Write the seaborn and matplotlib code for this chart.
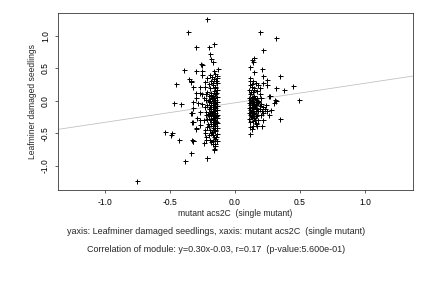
import matplotlib
matplotlib.use("Agg")
import matplotlib.pyplot as plt
import seaborn as sns
import pandas as pd

# ---- data ----
left_x = [-0.21, -0.36, -0.30, -0.39, -0.45, -0.35, -0.34, -0.25, -0.30, -0.47, -0.41, -0.54, -0.48, -0.49,
          -0.43, -0.33, -0.32, -0.34, -0.38, -0.21, -0.34, -0.32, -0.30, -0.27, -0.32, -0.30,
          -0.20, -0.16, -0.19, -0.18, -0.17, -0.26, -0.25, -0.16, -0.13, -0.25, -0.34, -0.23, -0.20, -0.14,
          -0.32, -0.27, -0.32, -0.30, -0.27, -0.25, -0.28, -0.25, -0.33, -0.27, -0.29, -0.33, -0.27, -0.30,
          -0.32, -0.23, -0.22, -0.24, -0.18, -0.16, -0.21,
          -0.15, -0.14, -0.16, -0.18, -0.14, -0.17, -0.15, -0.19, -0.14, -0.16, -0.21, -0.18, -0.15, -0.17,
          -0.20, -0.14, -0.16, -0.19, -0.22, -0.15, -0.17, -0.14, -0.20, -0.16, -0.18, -0.15, -0.21, -0.17,
          -0.14, -0.19, -0.16, -0.15, -0.18, -0.20, -0.14, -0.17, -0.16, -0.22, -0.15, -0.19, -0.17, -0.14,
          -0.16, -0.20, -0.18, -0.15, -0.17, -0.14, -0.21, -0.16, -0.19, -0.15, -0.17, -0.14, -0.18, -0.16,
          -0.20, -0.15, -0.17, -0.14, -0.19, -0.16, -0.15, -0.18, -0.14, -0.17, -0.16, -0.15, -0.19, -0.14,
          -0.17, -0.15, -0.16,
          -0.19, -0.21, -0.23, -0.22, -0.24, -0.23, -0.22, -0.24, -0.21, -0.23, -0.20, -0.22,
          -0.145, -0.155, -0.165, -0.175, -0.145, -0.185, -0.155, -0.175, -0.145, -0.165, -0.185, -0.155,
          -0.175, -0.145, -0.165, -0.185, -0.195, -0.205, -0.145, -0.165, -0.175, -0.155, -0.185, -0.205,
          -0.75]
left_y = [1.25, 1.06, 0.83, 0.48, 0.26, 0.34, 0.31, 0.55, 0.46, -0.03, -0.05, -0.48, -0.49, -0.52,
          -0.60, -0.60, -0.62, -0.80, -0.92, -0.88, -0.19, -0.32, -0.42, -0.29, -0.11, 0.04,
          0.82, 0.88, 0.72, 0.65, 0.60, 0.57, 0.46, 0.46, 0.49, 0.40, 0.29, 0.29, 0.26, 0.35,
          0.22, 0.22, -0.02, 0.12, 0.12, 0.11, -0.03, -0.05, -0.19, -0.17, -0.26, -0.32, -0.37, -0.43,
          -0.61, -0.49, -0.55, -0.65, -0.63, -0.75, -0.88,
          0.42, 0.38, 0.33, 0.30, 0.27, 0.24, 0.21, 0.19, 0.17, 0.15, 0.14, 0.12, 0.10, 0.08,
          0.07, 0.06, 0.04, 0.03, 0.02, 0.01, 0.00, -0.01, -0.02, -0.03, -0.04, -0.05, -0.06, -0.07,
          -0.08, -0.09, -0.10, -0.11, -0.12, -0.13, -0.14, -0.15, -0.16, -0.17, -0.18, -0.19, -0.20, -0.21,
          -0.22, -0.23, -0.24, -0.25, -0.26, -0.27, -0.28, -0.29, -0.30, -0.31, -0.33, -0.34, -0.35, -0.36,
          -0.38, -0.39, -0.41, -0.42, -0.44, -0.45, -0.47, -0.49, -0.51, -0.53, -0.56, -0.58, -0.60, -0.62,
          -0.66, -0.70, -0.74,
          0.40, 0.35, 0.22, 0.10, 0.05, -0.10, -0.22, -0.30, -0.40, -0.45, -0.52, -0.60,
          0.12, -0.02, -0.12, -0.19, -0.24, -0.06, 0.19, 0.05, -0.32, -0.38, -0.28, -0.44,
          -0.48, -0.55, -0.61, -0.16, 0.00, -0.20, 0.31, 0.27, 0.36, -0.66, 0.09, -0.35,
          -1.23]

right_x = [0.19, 0.32, 0.22, 0.15, 0.13, 0.14, 0.12, 0.21, 0.15, 0.22, 0.35, 0.25, 0.12, 0.32, 0.38,
           0.45, 0.49, 0.31, 0.26, 0.35, 0.12, 0.13, 0.14, 0.17, 0.12,
           0.22, 0.25, 0.27, 0.30, 0.32, 0.28, 0.26, 0.22, 0.21, 0.16, 0.19, 0.22,
           0.12, 0.14, 0.16, 0.12, 0.18, 0.13, 0.15, 0.11, 0.17, 0.14, 0.12, 0.19, 0.15, 0.13, 0.17, 0.11,
           0.14, 0.16, 0.12, 0.18, 0.13, 0.15, 0.11, 0.17, 0.14, 0.12, 0.16, 0.19, 0.13, 0.15, 0.11, 0.17,
           0.14, 0.12, 0.16, 0.18, 0.13, 0.15, 0.11, 0.14, 0.17, 0.12, 0.16, 0.13, 0.15, 0.11, 0.18, 0.14,
           0.12, 0.16,
           0.125, 0.145, 0.135, 0.155, 0.165, 0.125, 0.145, 0.175, 0.205, 0.21, 0.20, 0.22, 0.23, 0.24,
           0.25, 0.20, 0.19, 0.135, 0.155, 0.125]
right_y = [1.06, 0.97, 0.78, 0.66, 0.62, 0.60, 0.52, 0.49, 0.45, 0.38, 0.38, 0.32, 0.31, 0.20, 0.16,
           0.23, 0.02, 0.02, 0.08, -0.28, -0.51, -0.43, -0.38, -0.39, -0.40,
           0.27, 0.25, 0.08, -0.03, 0.00, -0.14, -0.21, -0.19, -0.39, -0.35, -0.12, -0.29,
           0.35, 0.30, 0.28, 0.25, 0.24, 0.21, 0.19, 0.17, 0.15, 0.13, 0.11, 0.10, 0.08, 0.06, 0.05, 0.04,
           0.03, 0.02, 0.01, 0.00, -0.01, -0.02, -0.03, -0.04, -0.05, -0.06, -0.07, -0.08, -0.09, -0.10,
           -0.11, -0.12, -0.13, -0.14, -0.15, -0.16, -0.17, -0.18, -0.19, -0.20, -0.21, -0.22, -0.23, -0.25,
           -0.27, -0.28, -0.29, -0.31, -0.33, -0.34,
           0.00, -0.08, -0.16, 0.05, -0.11, -0.24, 0.16, -0.02, -0.05, -0.15, 0.05, -0.09, -0.13, -0.06,
           -0.16, -0.22, 0.20, 0.26, -0.30, 0.14]

slope = 0.30
intercept = -0.03

x_ticks = [-1.0, -0.5, 0.0, 0.5, 1.0]
y_ticks = [-1.0, -0.5, 0.0, 0.5, 1.0]
x_label = "mutant acs2C  (single mutant)"
y_label = "Leafminer damaged seedlings"
caption1 = "yaxis: Leafminer damaged seedlings, xaxis: mutant acs2C  (single mutant)"
caption2 = "Correlation of module: y=0.30x-0.03, r=0.17  (p-value:5.600e-01)"

# ---- plotting ----
sns.set_style("white")
plt.rcParams["font.family"] = ["Liberation Sans", "DejaVu Sans"]

df = pd.DataFrame({"x": left_x + right_x, "y": left_y + right_y})

fig = plt.figure(figsize=(6, 4), dpi=72)
ax = fig.add_axes([0.134, 0.340, 0.822, 0.615])

xlim = (-1.36, 1.37)
ylim = (-1.37, 1.35)
fs = 8.5

ax.plot(list(xlim), [slope * xlim[0] + intercept, slope * xlim[1] + intercept],
        color="#c0c0c0", linewidth=0.8, zorder=1)
sns.scatterplot(data=df, x="x", y="y", ax=ax, marker="+", color="black",
                s=25, linewidth=1.0, zorder=2, legend=False)

ax.set_xlim(*xlim)
ax.set_ylim(*ylim)
ax.set_xticks(x_ticks)
ax.set_yticks(y_ticks)
ax.set_xticklabels([f"{v:.1f}" for v in x_ticks], fontsize=fs)
ax.set_yticklabels([f"{v:.1f}" for v in y_ticks], fontsize=fs, rotation=90, va="center")
ax.tick_params(axis="both", direction="out", length=3, width=0.6, pad=5, colors="black", bottom=True, left=True)
ax.set_xlabel(x_label, fontsize=fs, labelpad=2)
ax.set_ylabel(y_label, fontsize=fs, labelpad=4)
for sp in ax.spines.values():
    sp.set_color("#303030")
    sp.set_linewidth(0.8)

fig.text(0.5, 1 - 232 / 288, caption1, ha="center", va="center", fontsize=9)
fig.text(0.5, 1 - 250 / 288, caption2, ha="center", va="center", fontsize=9)

fig.savefig("out.png", dpi=72)
